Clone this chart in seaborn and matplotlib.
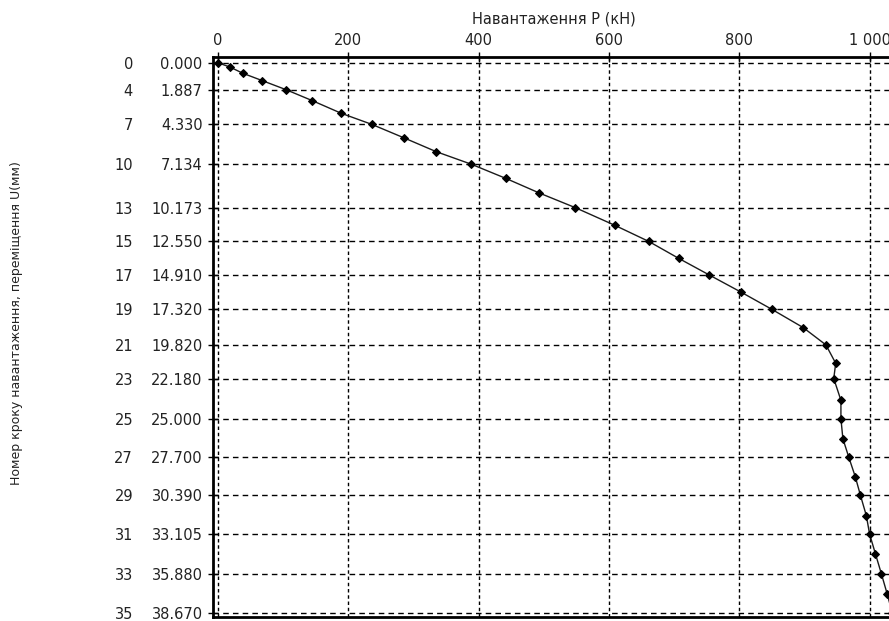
import matplotlib
matplotlib.use("Agg")
import matplotlib.pyplot as plt
import matplotlib.transforms as mtransforms
import seaborn as sns
import pandas as pd

# Load (kN) and displacement U (mm) per loading step 0..35
load_kn = [0, 19, 38, 68, 104, 145, 189, 236, 285, 335, 389, 442, 493, 548,
           609, 661, 707, 754, 803, 850, 898, 933, 948, 945, 956, 956, 959,
           968, 978, 986, 995, 1000, 1009, 1018, 1027, 1035]
disp_mm = [0.000, 0.32, 0.74, 1.26, 1.887, 2.67, 3.55, 4.330, 5.27, 6.25,
           7.134, 8.13, 9.15, 10.173, 11.42, 12.550, 13.74, 14.910, 16.12,
           17.320, 18.60, 19.820, 21.11, 22.180, 23.71, 25.000, 26.40,
           27.700, 29.07, 30.390, 31.81, 33.105, 34.50, 35.880, 37.31, 38.670]

tick_steps = [0, 4, 7, 10, 13, 15, 17, 19, 21, 23, 25, 27, 29, 31, 33, 35]
tick_disp = [0.000, 1.887, 4.330, 7.134, 10.173, 12.550, 14.910, 17.320,
             19.820, 22.180, 25.000, 27.700, 30.390, 33.105, 35.880, 38.670]
x_ticks = [0, 200, 400, 600, 800, 1000]
x_tick_labels = ["0", "200", "400", "600", "800", "1 000"]

x_label = "Навантаження P (кН)"
y_label = "Номер кроку навантаження, переміщення U(мм)"

df = pd.DataFrame({"P": load_kn, "U": disp_mm})

sns.set_theme(style="white")
plt.rcParams["font.family"] = ["DejaVu Sans"]

W, H = 889, 621
fig = plt.figure(figsize=(W / 100, H / 100), dpi=100)
left, right, top, bottom = 213, 895, 57.3, 617
ax = fig.add_axes([left / W, (H - bottom) / H, (right - left) / W, (bottom - top) / H])

sns.lineplot(data=df, x="P", y="U", sort=False, estimator=None, ax=ax,
             color="#1a1a1a", linewidth=1.0, marker="D", markersize=4.2,
             markeredgecolor="black", markerfacecolor="black", zorder=5)

ax.set_xlim(-7.7, 1039)
ax.set_ylim(38.93, -0.38)

ax.xaxis.tick_top()
ax.xaxis.set_label_position("top")
ax.set_xticks(x_ticks)
ax.set_xticklabels(x_tick_labels)
ax.set_yticks(tick_disp)
ax.set_yticklabels([f"{v:.3f}" for v in tick_disp])

ax.tick_params(axis="both", which="major", direction="inout", length=7, width=1,
               color="black", labelsize=10.5, labelcolor="#222222", pad=3,
               left=True, top=True, bottom=False, right=False)
ax.tick_params(axis="y", pad=4)

ax.set_xlabel(x_label, fontsize=10.5, color="#222222", labelpad=7)
ax.set_ylabel("")
fig.text(17 / W, 1 - 323 / H, y_label, rotation=90, ha="center", va="center",
         fontsize=9, color="#222222")

# step numbers column
trans = mtransforms.blended_transform_factory(fig.transFigure, ax.transData)
for s, v in zip(tick_steps, tick_disp):
    ax.text(133 / W, v, str(s), transform=trans, ha="right", va="center_baseline",
            fontsize=10.5, color="#222222", clip_on=False)

for x in x_ticks:
    ax.axvline(x, color="black", linewidth=1.0, linestyle=(0, (2.5, 2)), zorder=1)
for y in tick_disp:
    ax.axhline(y, color="black", linewidth=1.0, linestyle=(0, (4, 3)), zorder=1)

for side in ["left", "top", "bottom", "right"]:
    ax.spines[side].set_visible(True)
    ax.spines[side].set_color("black")
    ax.spines[side].set_linewidth(2.0)

fig.savefig("out.png", dpi=100, facecolor="white")
